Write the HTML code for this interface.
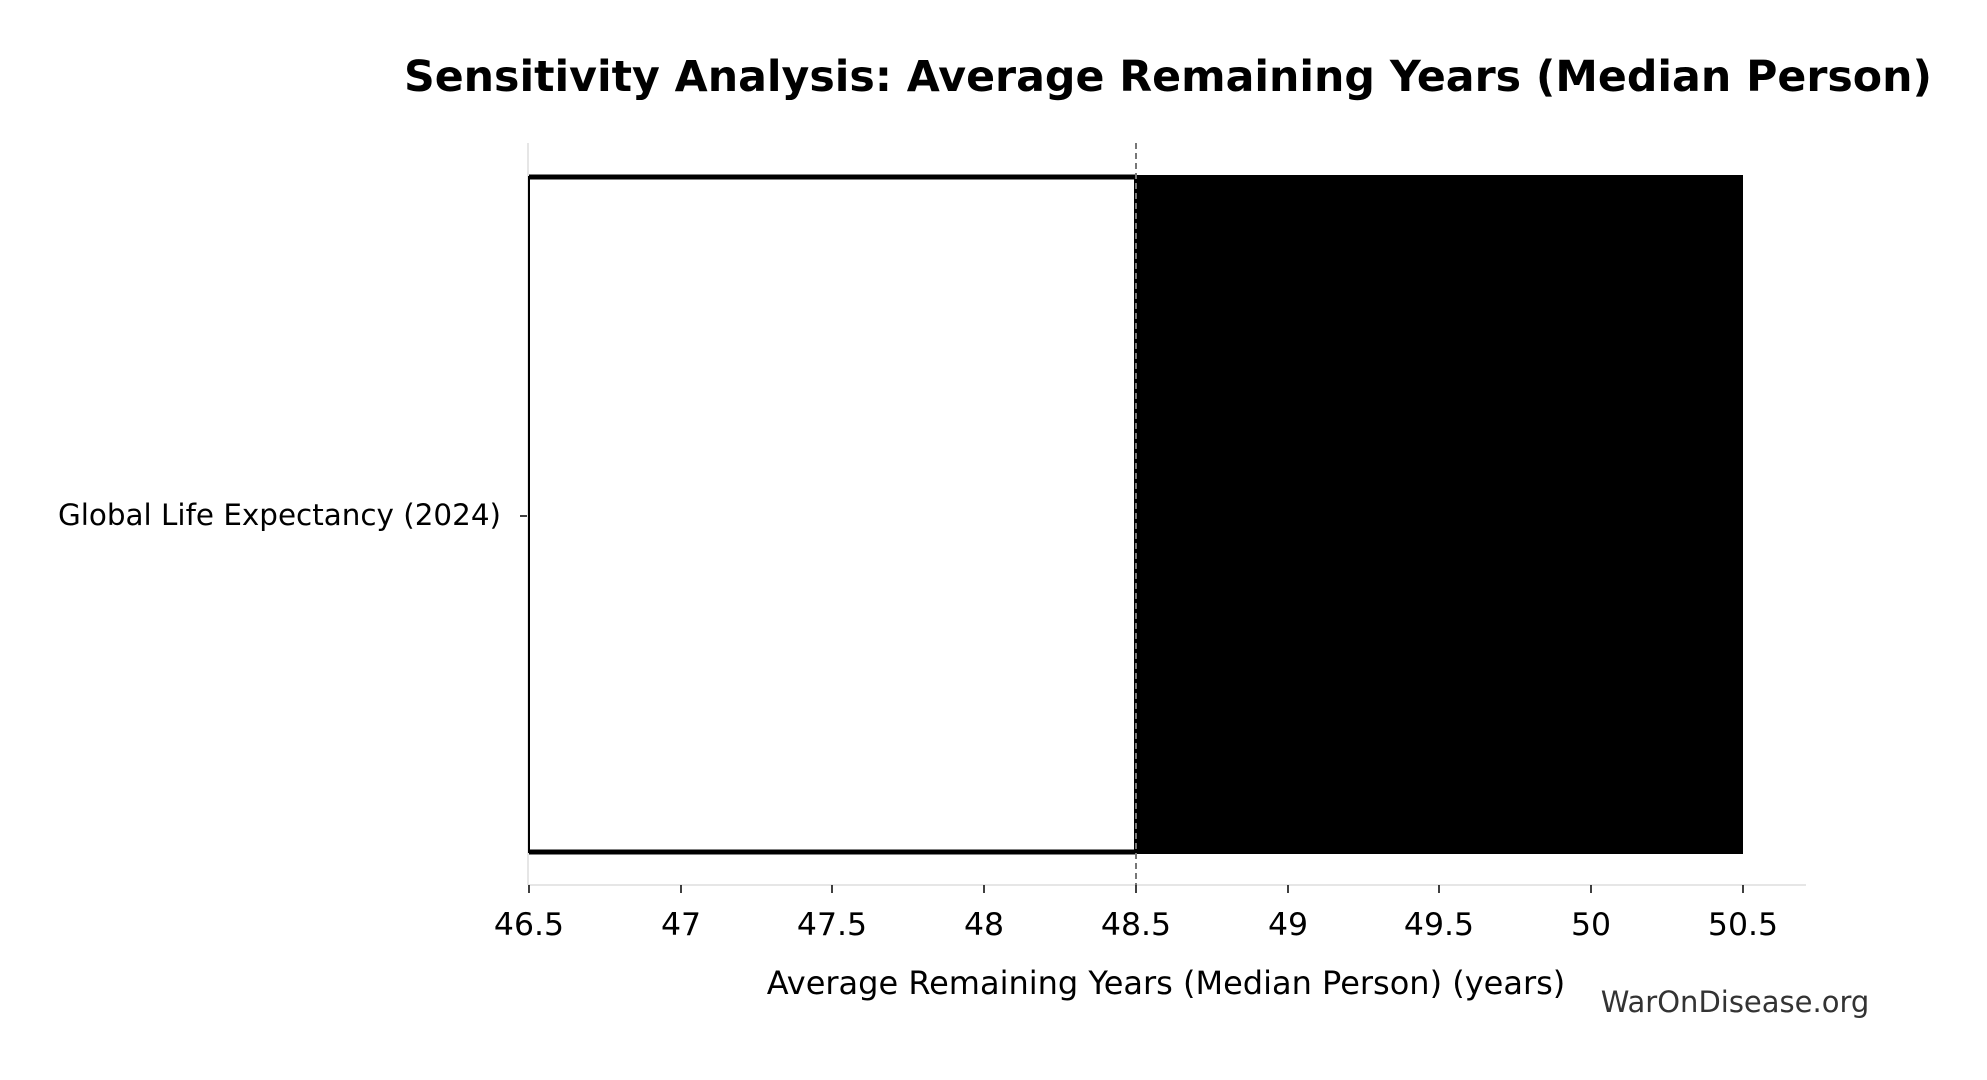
<!DOCTYPE html>
<html><head><meta charset="utf-8"><style>body{margin:0;background:#fff}</style></head><body>
<svg width="1987" height="1075" xmlns="http://www.w3.org/2000/svg" font-family="DejaVu Sans, Liberation Sans, sans-serif">
<rect width="1987" height="1075" fill="#fff"/>
<text x="1168" y="91" text-anchor="middle" font-size="42.7" font-weight="bold">Sensitivity Analysis: Average Remaining Years (Median Person)</text>
<line x1="528" y1="143" x2="528" y2="885" stroke="#ddd" stroke-width="1.5"/>
<line x1="528" y1="885" x2="1806" y2="885" stroke="#ddd" stroke-width="1.5"/>
<rect x="1135" y="175" width="608" height="679" fill="#000"/>
<rect x="529" y="177" width="606" height="675" fill="#fff" stroke="#000" stroke-width="2"/>
<line x1="529" y1="177" x2="1135" y2="177" stroke="#000" stroke-width="5"/>
<line x1="529" y1="852" x2="1135" y2="852" stroke="#000" stroke-width="5"/>
<line x1="1136" y1="143" x2="1136" y2="885" stroke="#777" stroke-width="2" stroke-dasharray="6,4"/>
<line x1="520" y1="516" x2="527" y2="516" stroke="#000" stroke-width="1.5"/>
<text x="501" y="525" text-anchor="end" font-size="29.4">Global Life Expectancy (2024)</text>
<g font-size="31.5" text-anchor="middle">
<g stroke="#000" stroke-width="1.5">
<line x1="529" y1="885" x2="529" y2="893"/><line x1="681" y1="885" x2="681" y2="893"/><line x1="832" y1="885" x2="832" y2="893"/><line x1="984" y1="885" x2="984" y2="893"/><line x1="1136" y1="885" x2="1136" y2="893"/><line x1="1288" y1="885" x2="1288" y2="893"/><line x1="1439" y1="885" x2="1439" y2="893"/><line x1="1591" y1="885" x2="1591" y2="893"/><line x1="1743" y1="885" x2="1743" y2="893"/>
</g>
<text x="529" y="935">46.5</text><text x="681" y="935">47</text><text x="832" y="935">47.5</text><text x="984" y="935">48</text><text x="1136" y="935">48.5</text><text x="1288" y="935">49</text><text x="1439" y="935">49.5</text><text x="1591" y="935">50</text><text x="1743" y="935">50.5</text>
<text x="1166" y="994" font-size="32">Average Remaining Years (Median Person) (years)</text>
</g>
<text x="1735" y="1012" text-anchor="middle" font-size="29" fill="#333">WarOnDisease.org</text>
</svg>
</body></html>
